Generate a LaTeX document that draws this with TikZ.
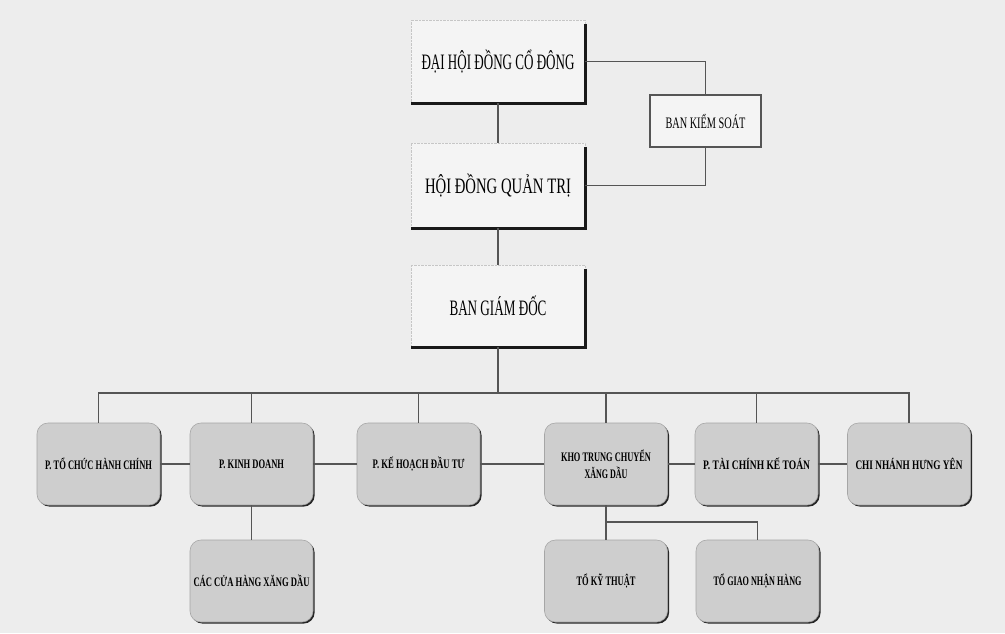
\documentclass[tikz,border=0pt]{standalone}
\usepackage{fontspec}
\usepackage{graphicx}
\setmainfont{Liberation Serif}
\usetikzlibrary{shadows}
\definecolor{paper}{RGB}{237,237,237}
\definecolor{topfill}{RGB}{244,244,244}
\definecolor{boxfill}{RGB}{206,206,206}
\definecolor{linec}{RGB}{85,85,85}
\newcommand\fw[2]{\resizebox{#1pt}{\height}{#2}}
\tikzset{
  topbox/.style={draw=gray!45, densely dotted, fill=topfill, minimum width=174pt, inner sep=0pt, font=\fontsize{22}{24}\selectfont},
  bksbox/.style={draw=linec, line width=1.2pt, fill=topfill, minimum width=111pt, minimum height=52pt, inner sep=0pt, font=\fontsize{16}{18}\selectfont},
  dept/.style={draw=gray!70, line width=0.6pt, fill=boxfill, rounded corners=11pt, minimum width=123pt, minimum height=82pt, inner sep=0pt,
    drop shadow={shadow xshift=1.6pt, shadow yshift=-1.6pt, fill=black!85, opacity=1},
    font=\fontsize{13}{15}\selectfont\bfseries, align=center},
  conn/.style={draw=linec, line width=1.5pt},
  thickL/.style={draw=black!90, line width=3.2pt}
}
\begin{document}
\begin{tikzpicture}[x=1pt,y=-1pt]
\fill[paper] (0,0) rectangle (1005,633);
\useasboundingbox (0,0) rectangle (1005,633);
% top boxes
\node[topbox, minimum height=83pt] (dh) at (498,61.5) {\fw{153}{ĐẠI HỘI ĐỒNG CỔ ĐÔNG}};
\node[topbox, minimum height=85pt] (hd) at (498,185.5) {\fw{146}{HỘI ĐỒNG QUẢN TRỊ}};
\node[topbox, minimum height=82pt] (bg) at (498,306) {\fw{97}{BAN GIÁM ĐỐC}};
\foreach \n in {dh,hd,bg}{
  \draw[thickL] ([yshift=-4pt]\n.north east) -- (\n.south east) -- (\n.south west);
}
\node[bksbox] (bks) at (705.5,121) {\fw{80}{BAN KIỂM SOÁT}};
% departments
\node[dept] (p1) at (98.5,464) {\fw{107}{P. TỔ CHỨC HÀNH CHÍNH}};
\node[dept] (p2) at (251.5,464) {\fw{65}{P. KINH DOANH}};
\node[dept] (p3) at (418.5,464) {\fw{92}{P. KẾ HOẠCH ĐẦU TƯ}};
\node[dept] (p4) at (606,464) {\fw{90}{KHO TRUNG CHUYỂN}\\[2pt]\fw{43}{XĂNG DẦU}};
\node[dept] (p5) at (756.5,464) {\fw{107}{P. TÀI CHÍNH KẾ TOÁN}};
\node[dept] (p6) at (909,464) {\fw{107}{CHI NHÁNH HƯNG YÊN}};
\node[dept] (c1) at (251.5,581) {\fw{116}{CÁC CỬA HÀNG XĂNG DẦU}};
\node[dept] (c2) at (606,581) {\fw{59}{TỔ KỸ THUẬT}};
\node[dept] (c3) at (757.5,581) {\fw{88}{TỔ GIAO NHẬN HÀNG}};
% connectors
\draw[conn] (dh.south) -- (hd.north);
\draw[conn] (hd.south) -- (bg.north);
\draw[conn] (dh.east) -| (bks.north);
\draw[conn] (bks.south) |- (hd.east);
\coordinate (bus) at (498,393);
\draw[conn] (bg.south) -- (bus);
\draw[conn] (p1.north) |- (bus) -| (p6.north);
\foreach \n in {p2,p3,p4,p5}{ \draw[conn] (\n.north) -- (\n.north |- bus); }
\draw[conn] (p1.east) -- (p2.west);
\draw[conn] (p2.east) -- (p3.west);
\draw[conn] (p3.east) -- (p4.west);
\draw[conn] (p4.east) -- (p5.west);
\draw[conn] (p5.east) -- (p6.west);
\draw[conn] (p2.south) -- (c1.north);
\draw[conn] (p4.south) -- (c2.north);
\coordinate (br) at (606,522);
\draw[conn] (br) -| (c3.north);
\end{tikzpicture}
\end{document}
